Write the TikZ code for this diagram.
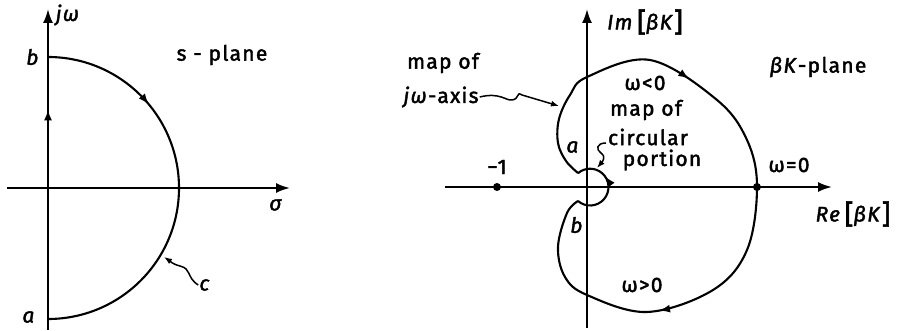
\documentclass[tikz,border=0pt]{standalone}
\usepackage{fontspec}
\setmainfont{Fira Sans}[LetterSpace=6, FakeBold=2]
\usetikzlibrary{arrows.meta,decorations.markings,positioning}
\newcommand{\bigbr}[1]{\raisebox{-2pt}{\fontsize{27}{27}\selectfont #1}}
\tikzset{
  axis/.style={
    line width=2.1pt,
    -{Latex[length=14pt,width=10pt]}
  },
  curve/.style={
    line width=2.1pt
  },
  midarrow/.style={
    postaction={decorate,
      decoration={markings,
        mark=at position #1 with {\arrow{Latex[length=11pt,width=8pt]}}}}
  },
  leader/.style={
    line width=1.5pt,
    -{Latex[length=8pt,width=6pt]}
  },
  lbl/.style={
    font=\fontsize{21}{23}\selectfont,
    inner sep=1pt
  },
  dot/.style={
    circle, fill, inner sep=0pt, minimum size=8pt
  }
}

\begin{document}
\begin{tikzpicture}[x=1pt,y=1pt]
        \useasboundingbox (0,0) rectangle (904,331);
        % s-plane
        \draw[axis] (7,143)--(290,143);
        \draw[axis] (48,1)--(48,322);
        \draw[curve, midarrow=0.8] (48,12)--(48,274);
        \draw[curve, midarrow=0.28] (48,274) arc[start angle=90, end angle=-90, radius=131];
        \node[lbl] (jw) at (68,316) {\textit{jω}};
        \node[lbl] (splane) at (222,276) {s - plane};
        \node[lbl] (sigma) at (276,126) {\textit{σ}};
        \node[lbl] (b1) at (33,274) {\textit{b}};
        \node[lbl] (a1) at (29,14) {\textit{a}};
        \node[lbl] (c1) at (205,46) {\textit{c}};
        \draw[leader] (c1.west) .. controls (186,54) and (192,62) .. (180,65) .. controls (172,67) and (170,70) .. (164,74);
        % betaK-plane
        \draw[axis] (445,144)--(832,144);
        \draw[axis] (587,3)--(587,322);
        \draw[curve, midarrow=0.31, midarrow=0.74] plot[smooth, tension=0.6] coordinates {
            (578,158) (566,170) (558,188) (559,212) (570,236) (587,254) (650,271)
            (717,231) (747,191) (757,144) (747,81) (713,41) (647,19) (587,36)
            (565,54) (558,84) (567,118) (578,130)};
        \draw[curve, midarrow=0.64] (578,130) arc[start angle=-131, end angle=131, radius=18.4];
        \node[dot] (m1) at (497,144) {};
        \node[dot] (w0) at (757,144) {};
        \node[lbl] (m1lbl) at (497,164) {−1};
        \node[lbl] (w0lbl) at (789,166) {ω=0};
        \node[lbl] (im) at (645,309) {\textit{Im}\,\bigbr{[}\textit{βK}\bigbr{]}};
        \node[lbl] (re) at (853,117) {\textit{Re}\,\bigbr{[}\textit{βK}\bigbr{]}};
        \node[lbl] (bkplane) at (818,264) {\textit{βK}-plane};
        \node[lbl] (wneg) at (645,248) {ω<0};
        \node[lbl] (wpos) at (642,46) {ω>0};
        \node[lbl] (a2) at (573,184) {\textit{a}};
        \node[lbl] (b2) at (577,106) {\textit{b}};
        \node[lbl] (mapa) at (443,268) {map of};
        \node[lbl] (axislbl) at (441,234) {\textit{jω}-axis};
        \node[lbl] (mapb) at (646,221) {map of};
        \node[lbl] (circ) at (648,194) {circular};
        \node[lbl] (port) at (662,171) {portion};
        \draw[leader] (axislbl.east) .. controls (500,239) and (506,230) .. (512,231) .. controls (520,232) and (516,240) .. (522,236) -- (559,225);
        \draw[leader] (606,188) .. controls (596,188) and (596,181) .. (601,178) .. controls (606,175) and (603,170) .. (597,163);
\end{tikzpicture}
\end{document}
